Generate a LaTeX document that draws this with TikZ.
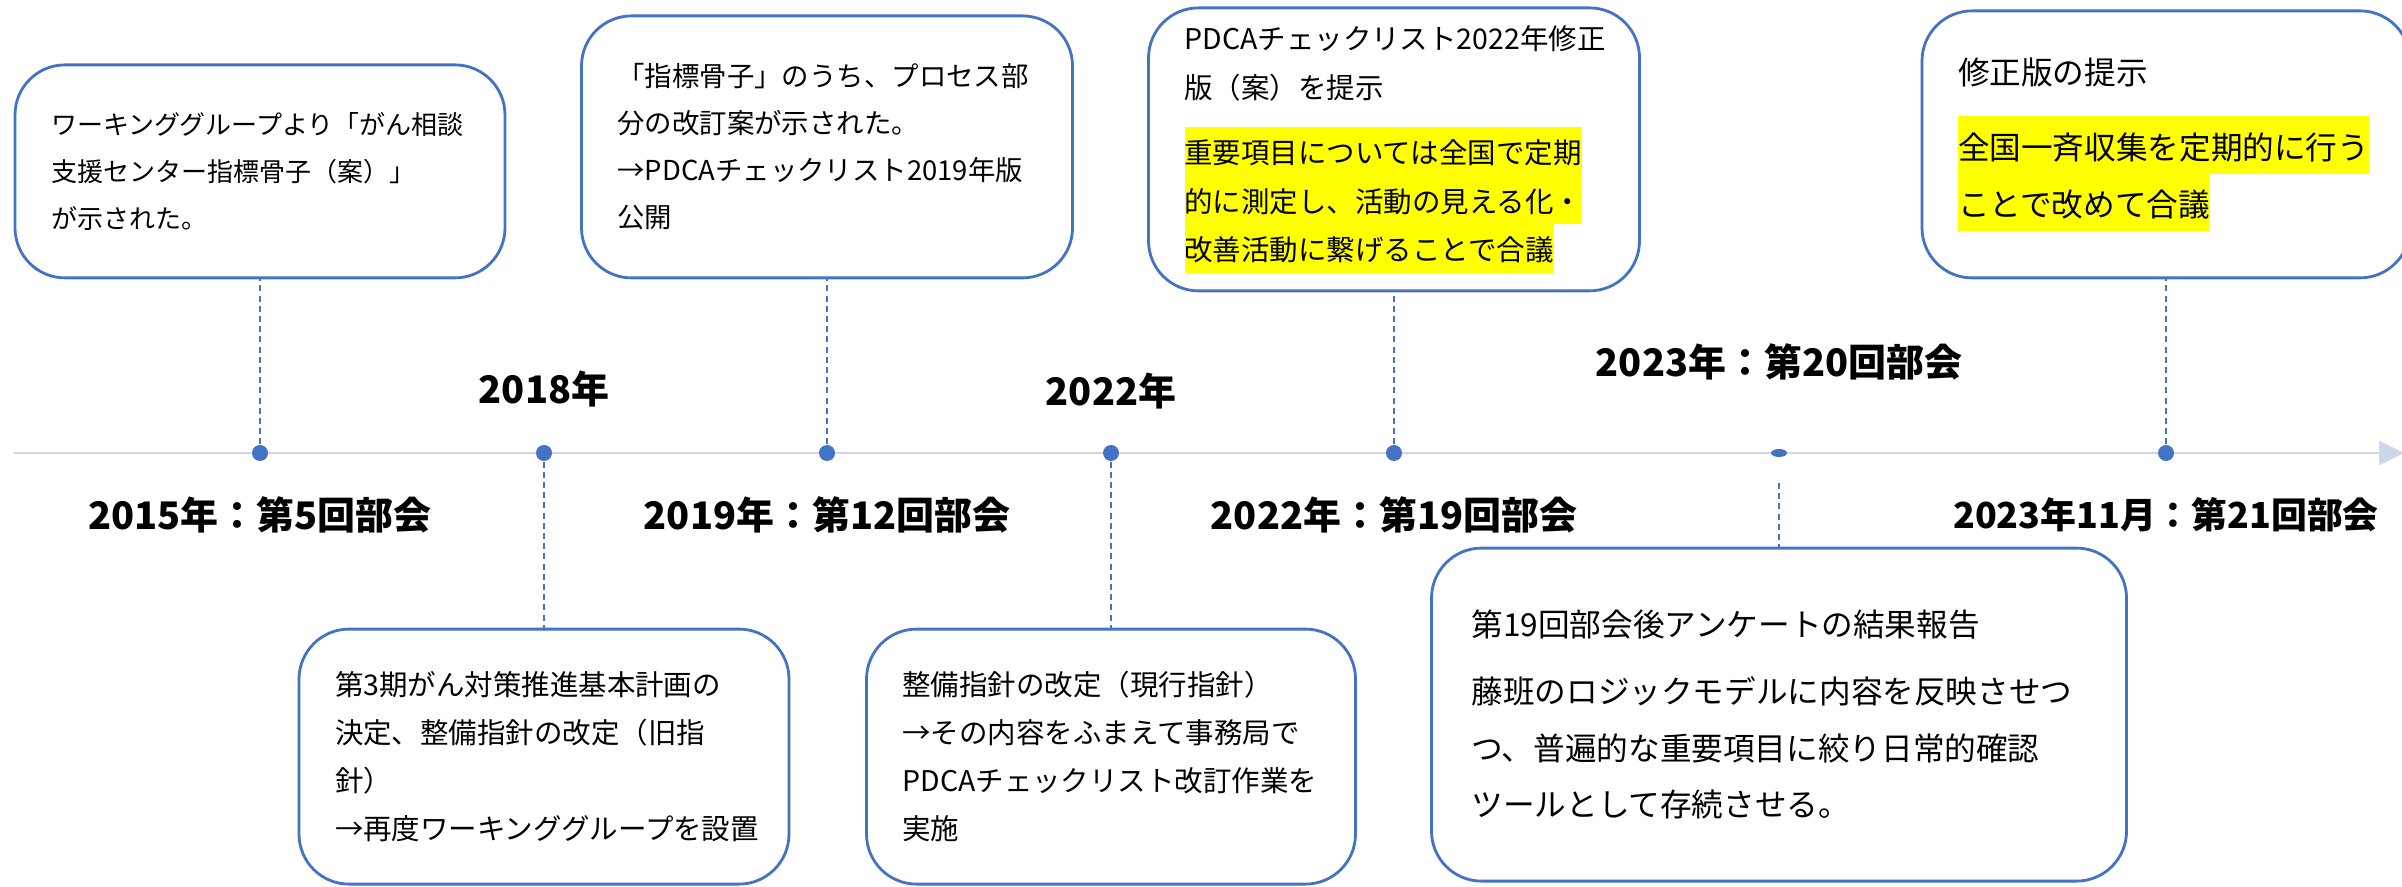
\documentclass[tikz,border=0pt]{standalone}
\usepackage{fontspec}
\setmainfont{Noto Sans CJK JP}
\usepackage{xcolor}
\usepackage{tikz}
\usetikzlibrary{shapes.geometric, arrows.meta, positioning}
\definecolor{accent}{RGB}{68,114,196}
\definecolor{axiscol}{RGB}{207,214,234}
\definecolor{marker}{RGB}{255,255,0}
\newcommand{\hl}[1]{{\setlength{\fboxsep}{0pt}\colorbox{marker}{\rule[-0.25\baselineskip]{0pt}{\baselineskip}#1}}}
\tikzstyle{axisline} = [line width=0.85pt, axiscol, -{Triangle[length=0.25cm,width=0.24cm]}]
\tikzstyle{dot} = [circle, fill=accent, minimum size=0.16cm, inner sep=0pt]
\tikzstyle{flatdot} = [ellipse, fill=accent, minimum width=0.16cm, minimum height=0.08cm, inner sep=0pt]
\tikzstyle{link} = [accent, line width=0.5pt, dash pattern=on 1.7pt off 1.2pt]
\tikzstyle{box} = [draw=accent, line width=0.8pt, rounded corners=0.5cm, align=left, inner xsep=0.36cm, inner ysep=0pt]
\tikzstyle{yearlabel} = [font=\fontsize{10.8pt}{13pt}\selectfont\bfseries, node distance=0.62cm]

\begin{document}
\begin{tikzpicture}
\useasboundingbox (0,0) rectangle (24.02,8.86);
\coordinate (t0) at (0.14,4.33);
\coordinate (t1) at (24.04,4.33);
\draw [axisline] (t0) -- (t1);

\node (d1) [dot] at (2.60,4.33) {};
\node (d2) [dot] at (5.44,4.33) {};
\node (d3) [dot] at (8.27,4.33) {};
\node (d4) [dot] at (11.11,4.33) {};
\node (d5) [dot] at (13.94,4.33) {};
\node (d6) [flatdot] at (17.79,4.33) {};
\node (d7) [dot] at (21.66,4.33) {};

\node (y2015) [yearlabel, below of=d1] {2015年：第5回部会};
\node (y2018) [yearlabel, above of=d2, yshift=0.02cm] {2018年};
\node (y2019) [yearlabel, below of=d3] {2019年：第12回部会};
\node (y2022a) [yearlabel, above of=d4] {2022年};
\node (y2022b) [yearlabel, below of=d5] {2022年：第19回部会};
\node (y2023a) [yearlabel, above of=d6, yshift=0.29cm] {2023年：第20回部会};
\node (y2023b) [yearlabel, below of=d7, font=\fontsize{10.2pt}{13pt}\selectfont\bfseries] {2023年11月：第21回部会};

\node (b1) [box, text width=4.18cm, minimum height=2.13cm, above=1.65cm of d1, font=\fontsize{7.4pt}{13.4pt}\selectfont] {ワーキンググループより「がん相談\\支援センター指標骨子（案）」\\が示された。};
\node (b2) [box, text width=4.19cm, minimum height=2.62cm, above=1.65cm of d3, font=\fontsize{7.8pt}{13.4pt}\selectfont] {「指標骨子」のうち、プロセス部\\分の改訂案が示された。\\→PDCAチェックリスト2019年版\\公開};
\node (b3) [box, text width=4.19cm, minimum height=2.83cm, above=1.52cm of d5, font=\fontsize{8.1pt}{13.8pt}\selectfont] {PDCAチェックリスト2022年修正\\版（案）を提示\\[4.8pt]\hl{重要項目については全国で定期}\\\hl{的に測定し、活動の見える化・}\\\hl{改善活動に繋げることで合議}};
\node (b4) [box, text width=4.16cm, minimum height=2.67cm, above=1.65cm of d7, font=\fontsize{9pt}{16.4pt}\selectfont] {修正版の提示\\[5pt]\hl{全国一斉収集を定期的に行う}\\\hl{ことで改めて合議}};
\node (b5) [box, text width=4.18cm, minimum height=2.55cm, below=1.66cm of d2, font=\fontsize{8.1pt}{13.66pt}\selectfont] {第3期がん対策推進基本計画の\\決定、整備指針の改定（旧指\\針）\\→再度ワーキンググループを設置};
\node (b6) [box, text width=4.17cm, minimum height=2.55cm, below=1.66cm of d4, font=\fontsize{8.1pt}{13.66pt}\selectfont] {整備指針の改定（現行指針）\\→その内容をふまえて事務局で\\PDCAチェックリスト改訂作業を\\実施};
\node (b7) [box, text width=6.15cm, inner xsep=0.40cm, minimum height=3.33cm, below=0.89cm of d6, font=\fontsize{9pt}{16.1pt}\selectfont] {第19回部会後アンケートの結果報告\\[3pt]藤班のロジックモデルに内容を反映させつ\\つ、普遍的な重要項目に絞り日常的確認\\ツールとして存続させる。};

\coordinate (c6) at ([yshift=-0.3cm]d6.center);
\draw [link] (d1) -- (b1);
\draw [link] (d2) -- (b5);
\draw [link] (d3) -- (b2);
\draw [link] (d4) -- (b6);
\draw [link] (d5) -- (b3);
\draw [link] (c6) -- (b7);
\draw [link] (d7) -- (b4);
\end{tikzpicture}
\end{document}
